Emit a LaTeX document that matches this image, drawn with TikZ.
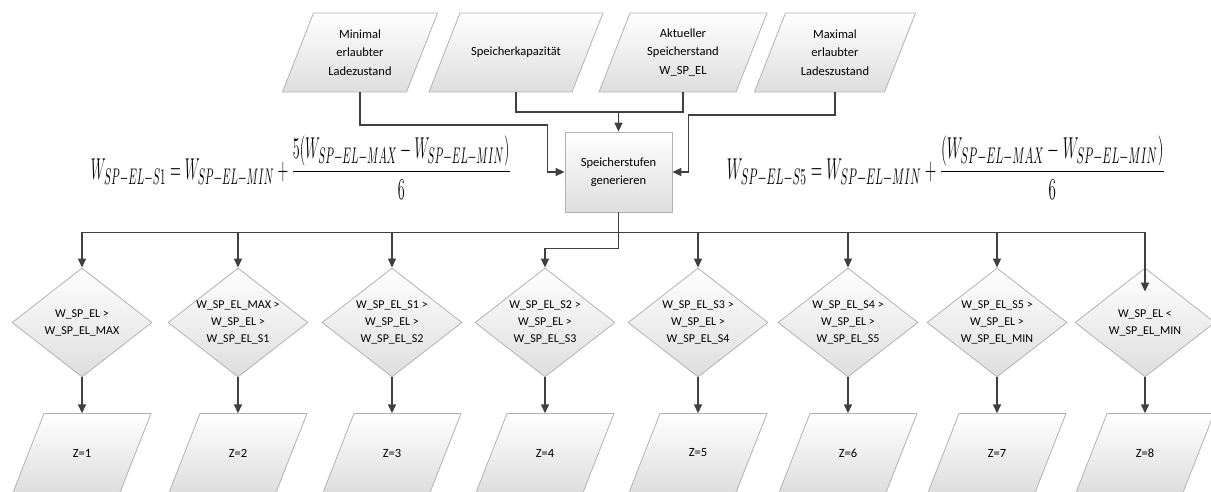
\documentclass[tikz,border=0pt]{standalone}
\usepackage{fontspec}
\setmainfont{Carlito}
\usepackage{amsmath}
\usepackage{graphicx}
\usetikzlibrary{shapes.geometric,arrows.meta}

\tikzset{
  filled/.style={draw=black!30,line width=0.8pt,top color=white,bottom color=black!13},
  genbox/.style={filled,rectangle,minimum width=107pt,minimum height=80pt},
  testbox/.style={filled,diamond,aspect=1.28,minimum width=140pt,minimum height=109pt,
    font=\fontsize{12}{17}\selectfont},
  conn/.style={draw=black!75,line width=1.4pt},
  arr/.style={conn,-{Triangle[length=9pt,width=8pt]}}}

% name, x, y, width of the top edge, text
\newcommand{\slantbox}[5]{%
  \path [filled] (#2-#4/2-15.5,#3-39.5) -- ++(31,79) -- ++(#4,0) -- ++(-31,-79) -- cycle;
  \node [minimum width=#4pt,minimum height=79pt] (#1) at (#2,#3) {#5};}

\begin{document}
\begin{tikzpicture}[x=1pt,y=1pt]
  \tikzstyle{every node}+=[inner sep=0pt,font=\fontsize{12.5}{18.5}\selectfont,align=center]
  \useasboundingbox (0,0) rectangle (1211,-492);
  \slantbox{ladmin}{360}{-52.5}{124}{Minimal\\erlaubter\\Ladezustand}
  \slantbox{kap}{516}{-52.5}{143}{Speicherkapazit\"at}
  \slantbox{akt}{683}{-52.5}{137}{Aktueller\\Speicherstand\\W\_SP\_EL}
  \slantbox{ladmax}{835}{-52.5}{130}{Maximal\\erlaubter\\Ladeszustand}
  \node [genbox] (gen) at (618.5,-172) {Speicherstufen\\generieren};
  \node (fsone) at (301,-168) {\resizebox{420pt}{43pt}{$\displaystyle W_{SP-EL-S1}=W_{SP-EL-MIN}+\frac{5(W_{SP-EL-MAX}-W_{SP-EL-MIN})}{6}$}};
  \node (fsfive) at (946,-168) {\resizebox{438pt}{43pt}{$\displaystyle W_{SP-EL-S5}=W_{SP-EL-MIN}+\frac{(W_{SP-EL-MAX}-W_{SP-EL-MIN})}{6}$}};
  \node [testbox] (d1) at (82,-322.5) {W\_SP\_EL >\\W\_SP\_EL\_MAX};
  \node [testbox] (d2) at (238,-322.5) {W\_SP\_EL\_MAX >\\W\_SP\_EL >\\W\_SP\_EL\_S1};
  \node [testbox] (d3) at (392,-322.5) {W\_SP\_EL\_S1 >\\W\_SP\_EL >\\W\_SP\_EL\_S2};
  \node [testbox] (d4) at (545,-322.5) {W\_SP\_EL\_S2 >\\W\_SP\_EL >\\W\_SP\_EL\_S3};
  \node [testbox] (d5) at (698,-322.5) {W\_SP\_EL\_S3 >\\W\_SP\_EL >\\W\_SP\_EL\_S4};
  \node [testbox] (d6) at (848,-322.5) {W\_SP\_EL\_S4 >\\W\_SP\_EL >\\W\_SP\_EL\_S5};
  \node [testbox] (d7) at (997,-322.5) {W\_SP\_EL\_S5 >\\W\_SP\_EL >\\W\_SP\_EL\_MIN};
  \node [testbox] (d8) at (1145,-322.5) {W\_SP\_EL <\\W\_SP\_EL\_MIN};
  \slantbox{z1}{82}{-453}{107}{Z=1}
  \slantbox{z2}{238}{-453}{107}{Z=2}
  \slantbox{z3}{392}{-453}{107}{Z=3}
  \slantbox{z4}{545}{-453}{107}{Z=4}
  \slantbox{z5}{698}{-453}{107}{Z=5}
  \slantbox{z6}{848}{-453}{107}{Z=6}
  \slantbox{z7}{997}{-453}{107}{Z=7}
  \slantbox{z8}{1145}{-453}{107}{Z=8}
  \draw [arr] (ladmin.south) -- ++(0,-33) -| ([xshift=-17pt]gen.west) -- (gen.west);
  \draw [conn] (kap.south) -- ++(0,-20) -| (akt.south);
  \draw [arr] ([yshift=20pt]gen.north) -- (gen.north);
  \draw [arr] (ladmax.south) -- ++(0,-23) -| ([xshift=16pt]gen.east) -- (gen.east);
  \draw [conn] (gen.south) -- ++(0,-20) coordinate (bus);
  \draw [arr] (bus) -| (d1.north);
  \draw [arr] (bus) -| (d2.north);
  \draw [arr] (bus) -| (d3.north);
  \draw [arr] (gen.south) -- ++(0,-36) -| (d4.north);
  \draw [arr] (bus) -| (d5.north);
  \draw [arr] (bus) -| (d6.north);
  \draw [arr] (bus) -| (d7.north);
  \draw [arr] (bus) -| ([yshift=-24pt]d8.north);
  \draw [arr] (d1.south) -- (z1.north);
  \draw [arr] (d2.south) -- (z2.north);
  \draw [arr] (d3.south) -- (z3.north);
  \draw [arr] (d4.south) -- (z4.north);
  \draw [arr] (d5.south) -- (z5.north);
  \draw [arr] (d6.south) -- (z6.north);
  \draw [arr] (d7.south) -- (z7.north);
  \draw [arr] (d8.south) -- (z8.north);
\end{tikzpicture}
\end{document}
